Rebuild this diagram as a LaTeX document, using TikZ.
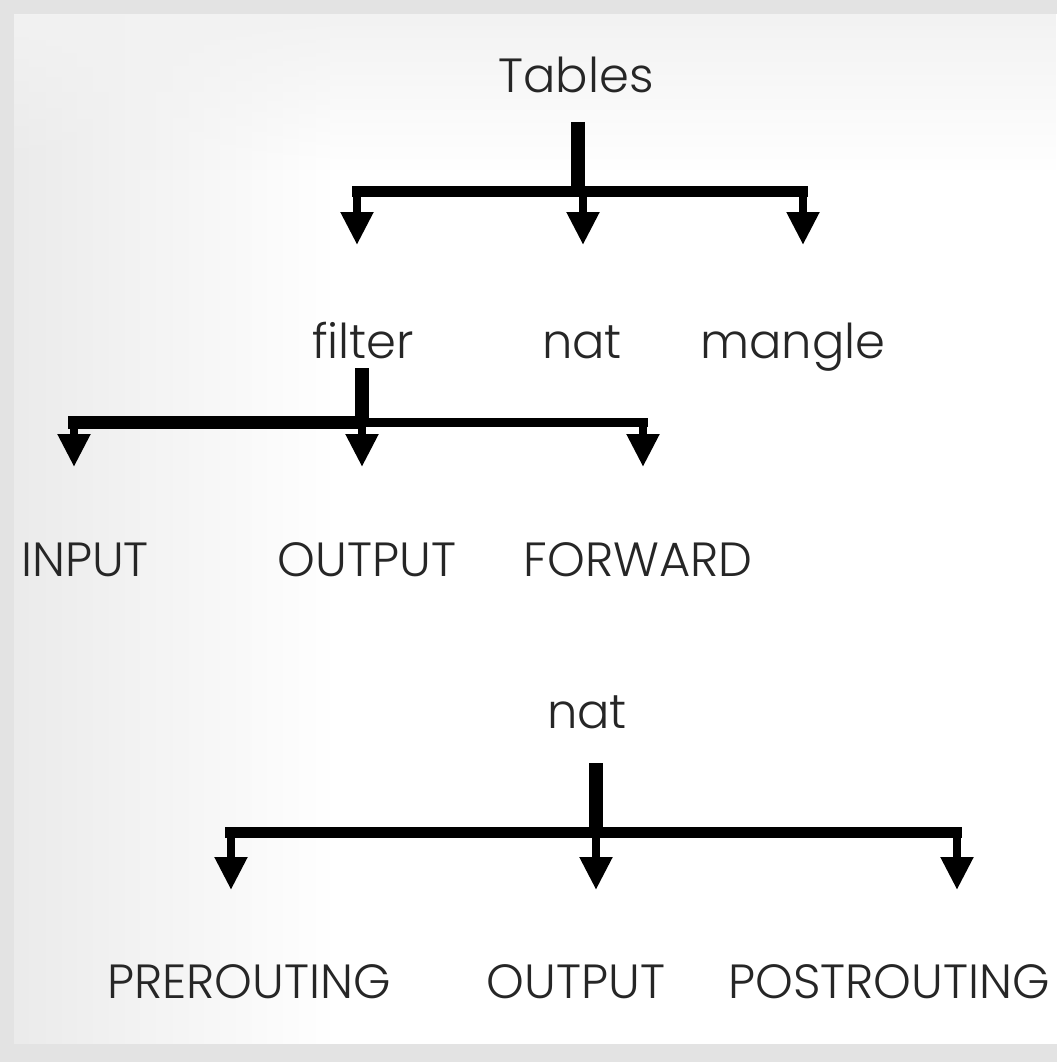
\documentclass[tikz,border=0pt]{standalone}
\usepackage{fontspec}
\setmainfont{Poppins}[UprightFont=* Light]
\usetikzlibrary{arrows.meta,fadings}

\begin{document}
\begin{tikzpicture}[x=1pt,y=-1pt,
    lbl/.style={font=\fontsize{48}{56}\selectfont,inner sep=0pt,anchor=base,text=black!85},
    stem/.style={line width=14pt},
    bar/.style={line width=11pt},
    drop/.style={line width=8pt,-{Triangle[width=31pt,length=33pt]}}]
  % background
  \fill[gray!22] (0,0) rectangle (1057,1062);
  \fill[white] (14,14) rectangle (1057,1044);
  \fill[gray!16,path fading=east] (14,14) rectangle (330,1044);
  \fill[gray!10,path fading=south] (14,14) rectangle (1057,170);
  \useasboundingbox (0,0) rectangle (1057,1062);

  % labels
  \node[lbl] (tables) at (576,93) {Tables};
  \node[lbl] (filter) at (363,358) {filter};
  \node[lbl] (nat) at (582,358) {nat};
  \node[lbl] (mangle) at (793,358) {mangle};
  \node[lbl] (input) at (85,576) {INPUT};
  \node[lbl] (output) at (367,576) {OUTPUT};
  \node[lbl] (forward) at (638,576) {FORWARD};
  \node[lbl] (natb) at (587,728) {nat};
  \node[lbl] (prerouting) at (249,998) {PREROUTING};
  \node[lbl] (outputb) at (576,998) {OUTPUT};
  \node[lbl] (postrouting) at (889,998) {POSTROUTING};

  % Tables -> filter, nat, mangle
  \coordinate (j1) at (578,191);
  \coordinate (b1l) at (352,191);
  \coordinate (b1r) at (808,191);
  \coordinate (a1) at (357,245);
  \coordinate (a2) at (583,245);
  \coordinate (a3) at (803,245);
  \draw[stem] ([xshift=2pt,yshift=-29pt]tables.base) -- (j1);
  \draw[bar] (b1l) -- (b1r);
  \foreach \t in {a1,a2,a3}
    \draw[drop] (\t |- j1) -- (\t);

  % filter -> INPUT, OUTPUT, FORWARD
  \coordinate (j2) at (362,422);
  \coordinate (b2l) at (68,422);
  \coordinate (b2r) at (648,422);
  \coordinate (c1) at (74,467);
  \coordinate (c2) at (362,467);
  \coordinate (c3) at (643,467);
  \draw[stem] ([xshift=-1pt,yshift=-10pt]filter.base) -- (j2);
  \draw[line width=13pt] (b2l) -- (j2);
  \draw[line width=9pt] (j2) -- (b2r);
  \foreach \t in {c1,c2,c3}
    \draw[drop] (\t |- j2) -- (\t);

  % nat -> PREROUTING, OUTPUT, POSTROUTING
  \coordinate (j3) at (596,832);
  \coordinate (b3l) at (225,832);
  \coordinate (b3r) at (962,832);
  \coordinate (d1) at (231,890);
  \coordinate (d2) at (596,890);
  \coordinate (d3) at (957,890);
  \draw[stem] ([xshift=9pt,yshift=-35pt]natb.base) -- (j3);
  \draw[bar] (b3l) -- (b3r);
  \foreach \t in {d1,d2,d3}
    \draw[drop] (\t |- j3) -- (\t);
\end{tikzpicture}
\end{document}
